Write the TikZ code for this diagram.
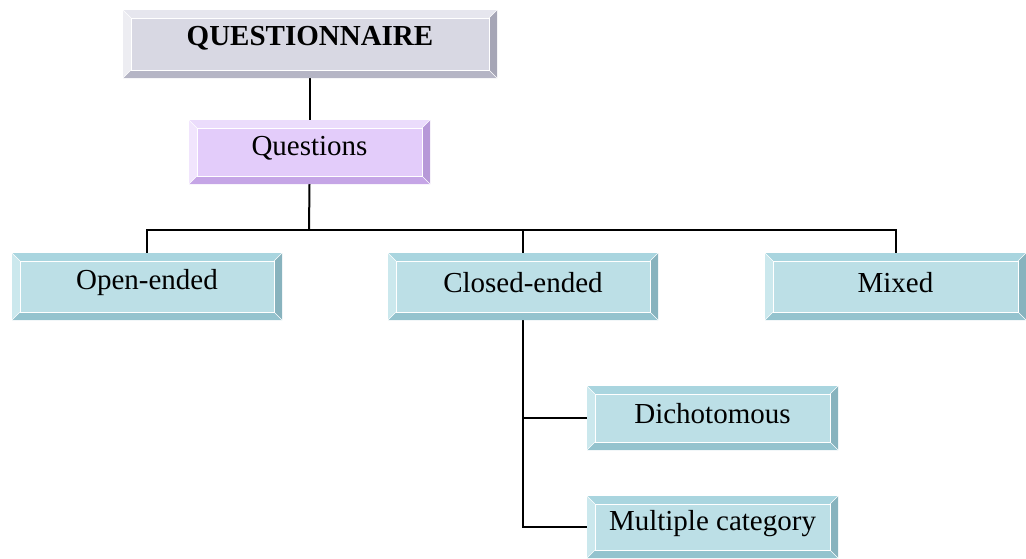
\documentclass[tikz,border=0pt]{standalone}
\usepackage{fontspec}
\setmainfont{Liberation Serif}
\usetikzlibrary{calc}
\definecolor{tface}{HTML}{BCDFE6}
\definecolor{ttop}{HTML}{A9D5DF}
\definecolor{tleft}{HTML}{CBE8ED}
\definecolor{tright}{HTML}{88B3BE}
\definecolor{tbot}{HTML}{94C3CE}
\definecolor{gface}{HTML}{D8D8E3}
\definecolor{gtop}{HTML}{E6E6EE}
\definecolor{gleft}{HTML}{EDEDF2}
\definecolor{gright}{HTML}{A6A6B6}
\definecolor{gbot}{HTML}{B5B5C5}
\definecolor{pface}{HTML}{E3CCFA}
\definecolor{ptop}{HTML}{EBDCFC}
\definecolor{pleft}{HTML}{F1E5FD}
\definecolor{pright}{HTML}{B799D8}
\definecolor{pbot}{HTML}{C5A5E6}
\newcommand\bevelbox[5]{%
  \fill[#2] (#1.north west) -- (#1.north east) -- ($(#1.north east)+(-8pt,-8pt)$) -- ($(#1.north west)+(8pt,-8pt)$) -- cycle;
  \fill[#3] (#1.north west) -- ($(#1.north west)+(8pt,-8pt)$) -- ($(#1.south west)+(8pt,8pt)$) -- (#1.south west) -- cycle;
  \fill[#4] (#1.north east) -- ($(#1.north east)+(-8pt,-8pt)$) -- ($(#1.south east)+(-8pt,8pt)$) -- (#1.south east) -- cycle;
  \fill[#5] (#1.south west) -- ($(#1.south west)+(8pt,8pt)$) -- ($(#1.south east)+(-8pt,8pt)$) -- (#1.south east) -- cycle;
  \draw[white,line width=0.8pt] ($(#1.north west)+(8pt,-8pt)$) rectangle ($(#1.south east)+(-8pt,8pt)$);
  \draw[white,line width=0.6pt] (#1.north west) -- ($(#1.north west)+(8pt,-8pt)$)
    (#1.north east) -- ($(#1.north east)+(-8pt,-8pt)$)
    (#1.south west) -- ($(#1.south west)+(8pt,8pt)$)
    (#1.south east) -- ($(#1.south east)+(-8pt,8pt)$);
}
\tikzset{
  box/.style={rectangle, inner sep=0pt, outer sep=0pt},
  tealbox/.style={box, fill=tface},
  graybox/.style={box, fill=gface},
  purplebox/.style={box, fill=pface},
  label/.style={font=\fontsize{29}{33}\selectfont, yshift=4pt},
  conn/.style={line width=2pt, black}
}
\begin{document}
\begin{tikzpicture}[x=1pt,y=-1pt]
\useasboundingbox (0,0) rectangle (1026,558);
\coordinate (hj) at (309,230);
\coordinate (hl) at (147,230);
\coordinate (hr) at (896,230);
\node[graybox, minimum width=374pt, minimum height=68pt] (q) at (310,44) {};
\node[purplebox, minimum width=241pt, minimum height=64pt] (qs) at (309.5,152) {};
\node[tealbox, minimum width=270pt, minimum height=67pt] (open) at (147,286.5) {};
\node[tealbox, minimum width=270pt, minimum height=67pt] (closed) at (523,286.5) {};
\node[tealbox, minimum width=261pt, minimum height=67pt] (mixed) at (895.5,286.5) {};
\node[tealbox, minimum width=251pt, minimum height=64pt] (dich) at (712.5,418) {};
\node[tealbox, minimum width=251pt, minimum height=62pt] (mult) at (712.5,527) {};
\draw[conn] (q.south -| qs.north) -- (qs.north);
\draw[conn] (qs.south) -- (hj);
\draw[conn] (open.north) -- (hl) -- (hr) -- (mixed.north -| hr);
\draw[conn] (hj -| closed.north) -- (closed.north);
\draw[conn] (closed.south) -- (closed.south |- mult.west) -- (mult.west);
\draw[conn] (closed.south |- dich.west) -- (dich.west);
\bevelbox{q}{gtop}{gleft}{gright}{gbot}
\bevelbox{qs}{ptop}{pleft}{pright}{pbot}
\bevelbox{open}{ttop}{tleft}{tright}{tbot}
\bevelbox{closed}{ttop}{tleft}{tright}{tbot}
\bevelbox{mixed}{ttop}{tleft}{tright}{tbot}
\bevelbox{dich}{ttop}{tleft}{tright}{tbot}
\bevelbox{mult}{ttop}{tleft}{tright}{tbot}
\node[label, font=\fontsize{29}{33}\selectfont\bfseries, yshift=2pt] at (q) {QUESTIONNAIRE};
\node[label] at (qs) {Questions};
\node[label] at (open) {Open-ended};
\node[label] at (closed) {Closed-ended};
\node[label] at (mixed) {Mixed};
\node[label] at (dich) {Dichotomous};
\node[label, yshift=-1pt] at (mult) {Multiple category};
\end{tikzpicture}
\end{document}
